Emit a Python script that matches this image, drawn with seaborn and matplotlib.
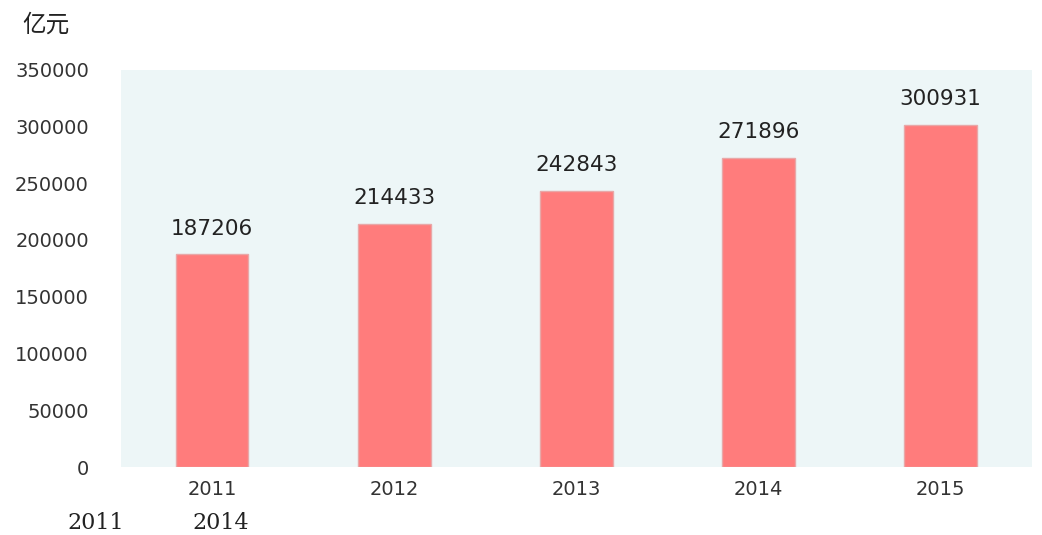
import matplotlib
matplotlib.use('Agg')
import matplotlib.pyplot as plt
import pandas as pd
import seaborn as sns

# 数据
years = ['2011', '2012', '2013', '2014', '2015']
values = [187206, 214433, 242843, 271896, 300931]
yticks = [0, 50000, 100000, 150000, 200000, 250000, 300000, 350000]
unit_label = '亿元'
footer_labels = ['2011', '2014']

df = pd.DataFrame({'year': years, 'value': values})

sns.set_theme(style='white')
plt.rcParams['font.family'] = ['DejaVu Sans', 'Noto Sans CJK SC']

fig = plt.figure(figsize=(10.42, 5.35), dpi=100)
ax = fig.add_axes([0.116, 0.127, 0.874, 0.743])
ax.set_facecolor('#edf6f7')

sns.barplot(data=df, x='year', y='value', color='#ff7c7c', saturation=1,
            width=0.4, edgecolor='#e8a8a8', linewidth=1, ax=ax)

for i, v in enumerate(values):
    ax.text(i, v + 14000, str(v), ha='center', va='bottom', fontsize=15.5,
            color='#222222')

ax.set_ylim(0, 350000)
ax.set_xlim(-0.5, 4.5)
ax.set_yticks(yticks)
ax.set_yticklabels([str(t) for t in yticks], fontsize=14, color='#333333')
ax.tick_params(axis='y', length=0, pad=23)
ax.tick_params(axis='x', length=0, pad=9, labelsize=14, labelcolor='#333333')
ax.set_xlabel('')
ax.set_ylabel('')
for s in ax.spines.values():
    s.set_visible(False)

fig.text(0.021, 0.953, unit_label, fontsize=17, family='Noto Sans CJK SC',
         color='#222222', va='center')
fig.text(0.065, 0.023, footer_labels[0], fontsize=16, family='DejaVu Serif',
         color='#222222', va='center')
fig.text(0.185, 0.023, footer_labels[1], fontsize=16, family='DejaVu Serif',
         color='#222222', va='center')

plt.savefig('out.png', dpi=100)
